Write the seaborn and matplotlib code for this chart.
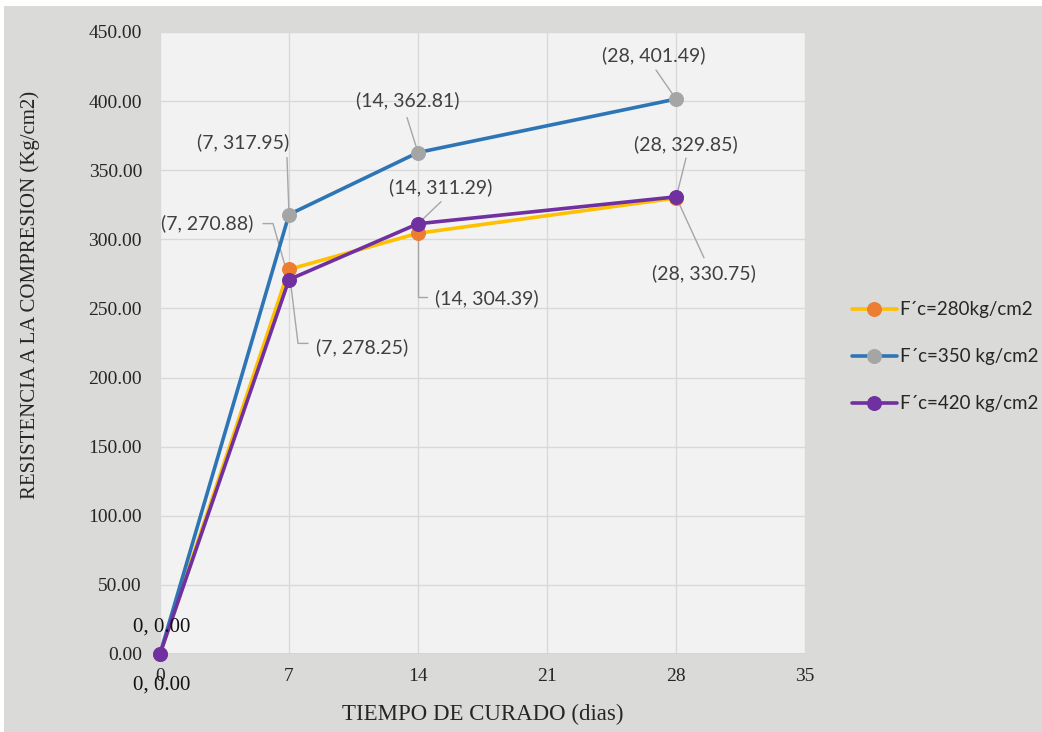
import matplotlib
matplotlib.use("Agg")
import matplotlib.pyplot as plt
from matplotlib.patches import Rectangle
import seaborn as sns
import pandas as pd

# Curing age (days) and compressive strength per mix design
dias = [0, 7, 14, 28]
fc_280 = [0.00, 278.25, 304.39, 329.85]
fc_350 = [0.00, 317.95, 362.81, 401.49]
fc_420 = [0.00, 270.88, 311.29, 330.75]
series_names = ["F\u00b4c=280kg/cm2", "F\u00b4c=350 kg/cm2", "F\u00b4c=420 kg/cm2"]
x_ticks = [0, 7, 14, 21, 28, 35]
y_ticks = [0, 50, 100, 150, 200, 250, 300, 350, 400, 450]

df = pd.DataFrame({
    "dias": dias * 3,
    "resistencia": fc_280 + fc_350 + fc_420,
    "serie": [series_names[0]] * 4 + [series_names[1]] * 4 + [series_names[2]] * 4,
})

sns.set_theme(style="white")
serif = ["Liberation Serif", "DejaVu Serif"]
sans = ["Lato", "DejaVu Sans"]

W, H = 1042, 732
fig = plt.figure(figsize=(W / 100, H / 100), dpi=100)
fig.patch.set_facecolor("white")
# grey chart frame
fig.patches.append(Rectangle((4 / W, 0), 1, 1 - 6 / H, transform=fig.transFigure,
                             facecolor="#dadad8", edgecolor="none", zorder=-5))

ax = fig.add_axes([160 / W, 1 - 654 / H, 645 / W, 622 / H])
ax.set_zorder(2)
ax.set_facecolor("#f2f2f2")

line_colors = ["#ffc000", "#2e75b6", "#7030a0"]
marker_colors = ["#ed7d31", "#a5a5a5", "#7030a0"]
for name, lc, mc in zip(series_names, line_colors, marker_colors):
    sub = df[df["serie"] == name]
    sns.lineplot(data=sub, x="dias", y="resistencia", ax=ax, color=lc, linewidth=2.6,
                 marker="o", markersize=10, markerfacecolor=mc, markeredgecolor=mc,
                 label=name, zorder=3, clip_on=False)

ax.set_xlim(0, 35)
ax.set_ylim(0, 450)
ax.set_xticks(x_ticks)
ax.set_yticks(y_ticks)
ax.set_yticklabels([f"{v:.2f}" for v in y_ticks], fontfamily=serif, fontsize=14, color="#262626")
ax.set_xticklabels([str(v) for v in x_ticks], fontfamily=serif, fontsize=14, color="#262626")
ax.tick_params(axis="y", length=0, pad=13)
ax.tick_params(axis="x", length=0, pad=10)
ax.grid(True, color="#d9d9d9", linewidth=1)
ax.set_axisbelow(True)
for s in ax.spines.values():
    s.set_visible(False)
ax.axhline(0, color="#d0d0d0", linewidth=1.2, zorder=1)

ax.set_xlabel("")
ax.set_ylabel("")
fig.text(483 / W, 1 - 714 / H, "TIEMPO DE CURADO (dias)", fontfamily=serif, fontsize=16.5,
         color="#262626", ha="center", va="center")
fig.text(30 / W, 1 - 295 / H, "RESISTENCIA A LA COMPRESION (Kg/cm2)", fontfamily=serif,
         fontsize=15, color="#262626", ha="center", va="center", rotation=90)

# data labels: (series values, index, text offset px, leader path offsets px)
lab_color = "#404040"
lead_color = "#a6a6a6"
labels = [
    (fc_350, 3, (-22, 44), [(-20, 29)]),
    (fc_350, 2, (-10, 52), [(-11, 35)]),
    (fc_350, 1, (-46, 72), [(-2, 57)]),
    (fc_420, 1, (-82, 56), [(-26, 56), (-16, 56)]),
    (fc_280, 1, (73, -78), [(19, -74), (9, -74)]),
    (fc_420, 2, (23, 37), [(23, 22)]),
    (fc_280, 2, (69, -65), [(9, -64), (0, -64)]),
    (fc_280, 3, (10, 54), [(10, 40)]),
    (fc_420, 3, (28, -76), [(28, -61)]),
]
trans = ax.transData
inv = trans.inverted()
for vals, i, toff, path in labels:
    x, y = dias[i], vals[i]
    ax.annotate(f"({dias[i]}, {vals[i]:.2f})", xy=(x, y), xytext=toff,
                textcoords="offset pixels", ha="center", va="center",
                fontfamily=sans, fontsize=14, color=lab_color, zorder=5,
                annotation_clip=False)
    px, py = trans.transform((x, y))
    pts = [(px + dx, py + dy) for dx, dy in path] + [(px, py)]
    d = inv.transform(pts)
    ax.plot(d[:, 0], d[:, 1], color=lead_color, linewidth=1, zorder=2, clip_on=False)

# origin labels
for dy in (27, -31):
    ax.annotate(f"{dias[0]}, {fc_280[0]:.2f}", xy=(dias[0], fc_280[0]), xytext=(2, dy),
                textcoords="offset pixels", ha="center", va="center",
                fontfamily=serif, fontsize=15, color="#111111", zorder=5,
                annotation_clip=False)

ax.legend_.remove()
handles, leg_labels = ax.get_legend_handles_labels()
fig.legend(handles, leg_labels, loc="center left", bbox_to_anchor=(835 / W, 1 - 357 / H),
           frameon=False, prop={"family": sans, "size": 13.5}, labelspacing=1.6,
           handlelength=2.4, handletextpad=0.15, labelcolor="#262626")

fig.savefig("out.png", dpi=100, facecolor=fig.get_facecolor())
